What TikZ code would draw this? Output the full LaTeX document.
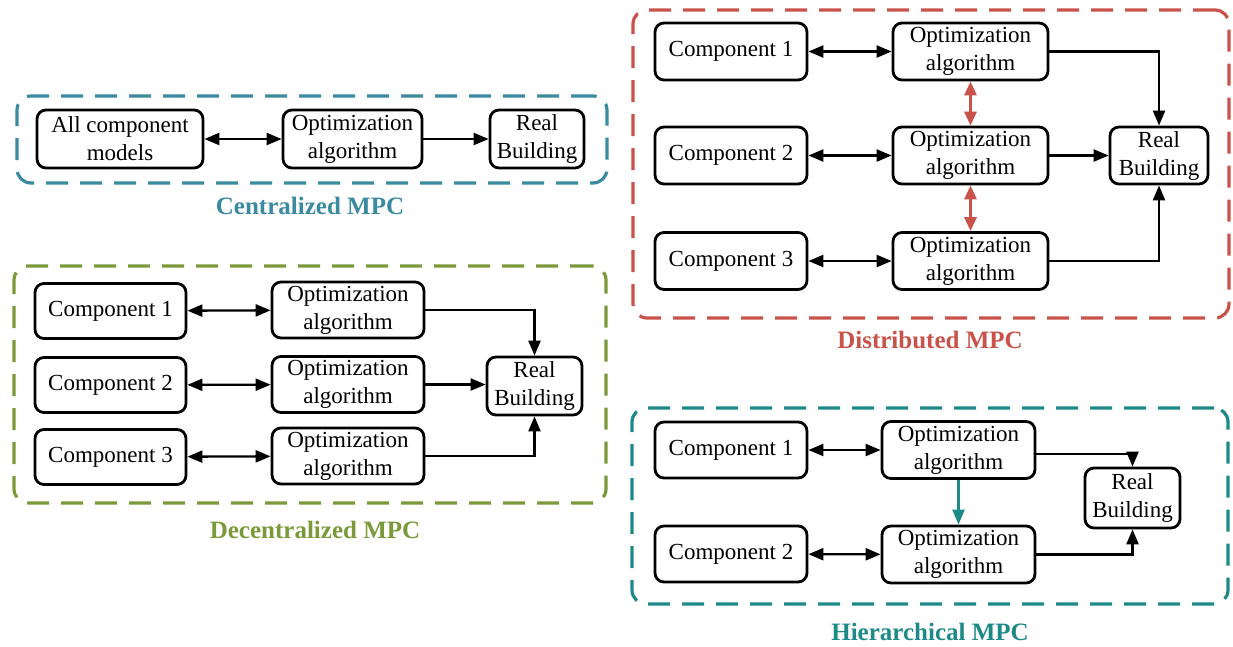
\documentclass[tikz,border=0pt]{standalone}
\usepackage{fontspec}
\setmainfont{Liberation Serif}
\usetikzlibrary{arrows.meta}
\definecolor{cencol}{HTML}{3A8AA0}
\definecolor{deccol}{HTML}{7A9A3A}
\definecolor{discol}{HTML}{C9524A}
\definecolor{hiecol}{HTML}{1E8A88}
\begin{document}
\begin{tikzpicture}[x=1pt,y=-1pt,
  box/.style={draw, line width=2.8pt, rounded corners=9pt, align=center, inner sep=0pt,
    font=\fontsize{23}{28}\selectfont},
  compbox/.style={box, minimum width=152pt, minimum height=56pt},
  optbox/.style={box, minimum width=153pt, minimum height=57pt},
  realbox/.style={box, minimum width=95pt, minimum height=58pt},
  group/.style={draw=#1, line width=3.2pt, rounded corners=14pt, dash pattern=on 22pt off 12pt,
    inner sep=0pt},
  grouptitle/.style={text=#1, font=\fontsize{25}{30}\selectfont\bfseries},
  arr/.style={line width=2.3pt, -{Triangle[length=15pt,width=12pt]}},
  darr/.style={line width=2.3pt, {Triangle[length=15pt,width=12pt]}-{Triangle[length=15pt,width=12pt]}},
  linkarr/.style={line width=3pt, {Triangle[length=14pt,width=12pt]}-{Triangle[length=14pt,width=12pt]}},
]
\useasboundingbox (0,0) rectangle (1233,646);

% ---------------- Centralized MPC ----------------
\node[group=cencol, minimum width=590pt, minimum height=87pt] (gcen) at (312,139.5) {};
\node[box, minimum width=166pt, minimum height=58pt] (cen-all) at (120,139) {All component\\models};
\node[box, minimum width=139pt, minimum height=58pt] (cen-opt) at (352.5,139) {Optimization\\algorithm};
\node[realbox, minimum width=94pt] (cen-real) at (537,139) {Real\\Building};
\draw[darr] (cen-all) -- (cen-opt);
\draw[arr] (cen-opt) -- (cen-real);
\node[grouptitle=cencol] (tcen) at (310,206) {Centralized MPC};

% ---------------- Decentralized MPC ----------------
\node[group=deccol, minimum width=592pt, minimum height=237pt] (gdec) at (310,384.5) {};
\node[compbox, minimum width=151pt, minimum height=55pt] (dec-c1) at (110.5,311) {Component 1};
\node[compbox, minimum width=151pt, minimum height=55pt] (dec-c2) at (110.5,385) {Component 2};
\node[compbox, minimum width=151pt, minimum height=55pt] (dec-c3) at (110.5,457) {Component 3};
\node[optbox, minimum width=152pt, minimum height=56pt] (dec-o1) at (348,310) {Optimization\\algorithm};
\node[optbox, minimum width=152pt, minimum height=56pt] (dec-o2) at (348,384.5) {Optimization\\algorithm};
\node[optbox, minimum width=152pt, minimum height=56pt] (dec-o3) at (348,456) {Optimization\\algorithm};
\node[realbox] (dec-real) at (534.5,386) {Real\\Building};
\draw[darr] (dec-c1) -- (dec-o1);
\draw[darr] (dec-c2) -- (dec-o2);
\draw[darr] (dec-c3) -- (dec-o3);
\draw[arr] (dec-o1.east) -| (dec-real.north);
\draw[arr] (dec-o2.east) -- (dec-o2.east -| dec-real.west);
\draw[arr] (dec-o3.east) -| (dec-real.south);
\node[grouptitle=deccol] (tdec) at (315,530) {Decentralized MPC};

% ---------------- Distributed MPC ----------------
\node[group=discol, minimum width=596pt, minimum height=308pt] (gdis) at (931,164) {};
\node[compbox, minimum height=57pt] (dis-c1) at (731,51.5) {Component 1};
\node[compbox, minimum height=57pt] (dis-c2) at (731,155.5) {Component 2};
\node[compbox, minimum height=57pt] (dis-c3) at (731,261) {Component 3};
\node[optbox, minimum width=155pt] (dis-o1) at (970.5,51.5) {Optimization\\algorithm};
\node[optbox, minimum width=155pt] (dis-o2) at (970.5,155.5) {Optimization\\algorithm};
\node[optbox, minimum width=155pt] (dis-o3) at (970.5,261) {Optimization\\algorithm};
\node[realbox, minimum width=98pt, minimum height=57pt] (dis-real) at (1159,155.5) {Real\\Building};
\draw[darr] (dis-c1) -- (dis-o1);
\draw[darr] (dis-c2) -- (dis-o2);
\draw[darr] (dis-c3) -- (dis-o3);
\draw[linkarr, draw=discol, fill=discol] (dis-o1) -- (dis-o2);
\draw[linkarr, draw=discol, fill=discol] (dis-o2) -- (dis-o3);
\draw[arr] (dis-o1.east) -| (dis-real.north);
\draw[arr] (dis-o2) -- (dis-real);
\draw[arr] (dis-o3.east) -| (dis-real.south);
\node[grouptitle=discol] (tdis) at (930,340) {Distributed MPC};

% ---------------- Hierarchical MPC ----------------
\node[group=hiecol, minimum width=596pt, minimum height=196pt] (ghie) at (930,506) {};
\node[compbox] (hie-c1) at (731,450) {Component 1};
\node[compbox] (hie-c2) at (731,554) {Component 2};
\node[optbox] (hie-o1) at (958.5,450) {Optimization\\algorithm};
\node[optbox] (hie-o2) at (958.5,554.5) {Optimization\\algorithm};
\node[realbox, minimum height=60pt] (hie-real) at (1132.5,498) {Real\\Building};
\coordinate (hie-o1out) at ([yshift=-4pt]hie-o1.east);
\draw[darr] (hie-c1) -- (hie-o1);
\draw[darr] (hie-c2) -- (hie-o2);
\draw[arr, draw=hiecol, fill=hiecol] (hie-o1) -- (hie-o2);
\draw[arr] (hie-o1out) -| (hie-real.north);
\draw[arr] (hie-o2.east) -| (hie-real.south);
\node[grouptitle=hiecol] (thie) at (930,632) {Hierarchical MPC};
\end{tikzpicture}
\end{document}
